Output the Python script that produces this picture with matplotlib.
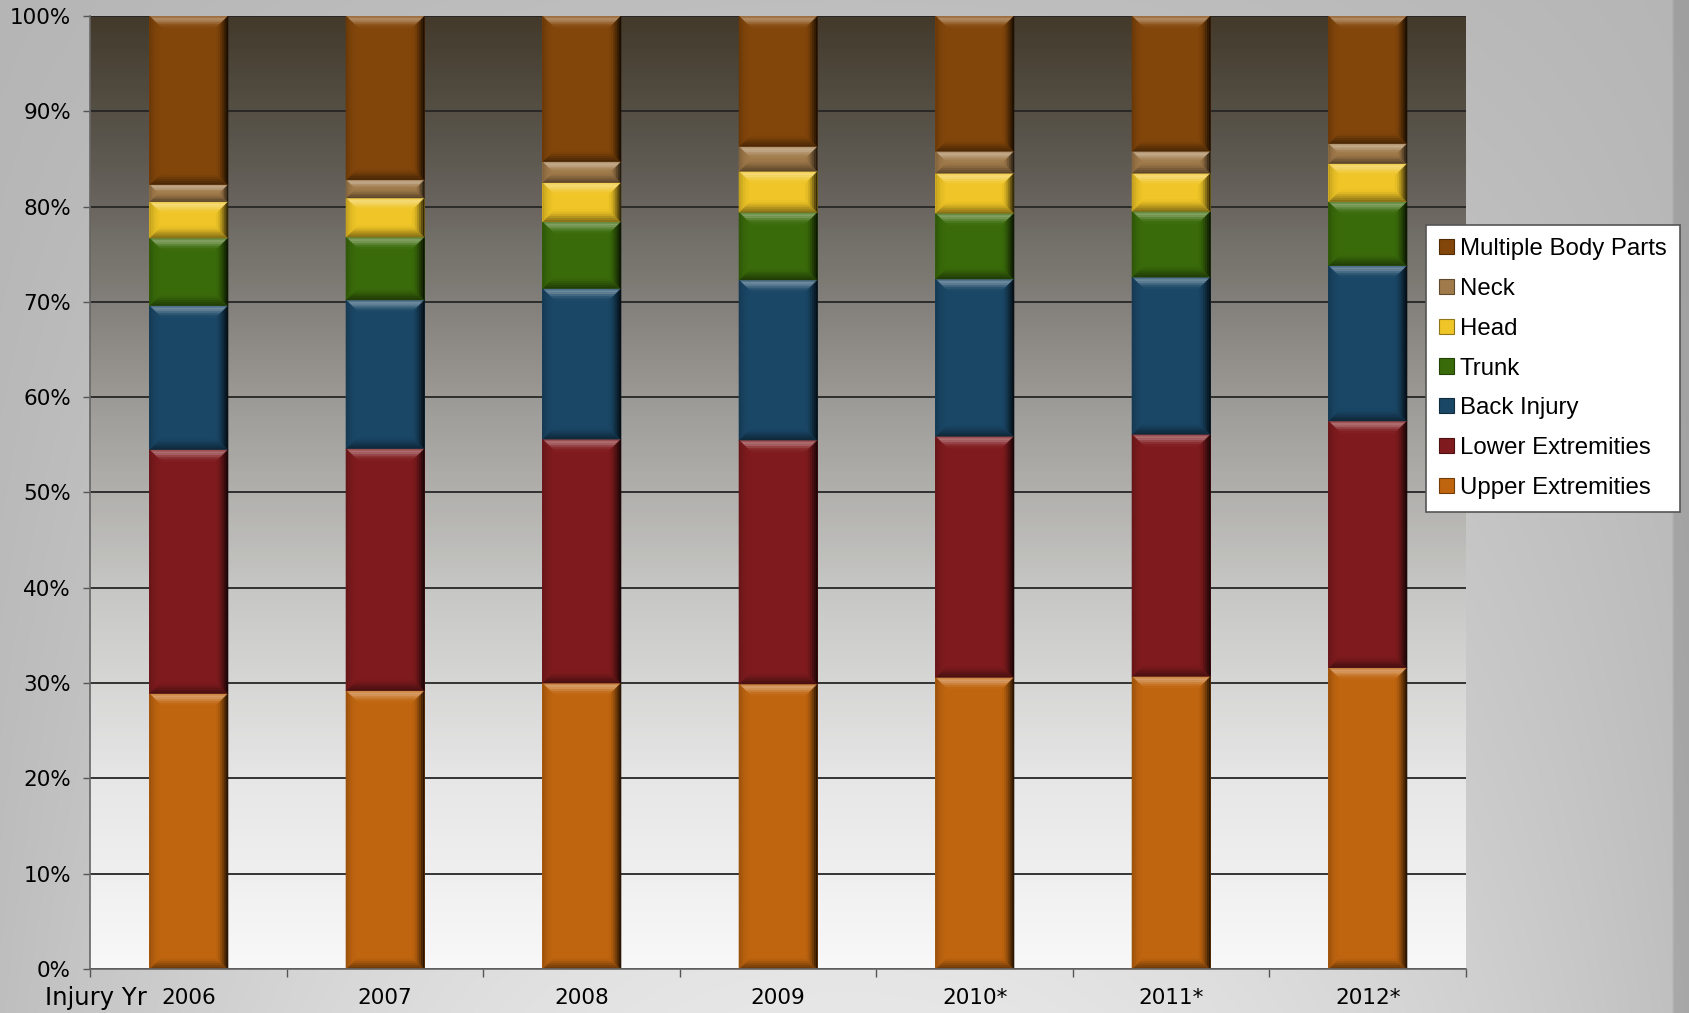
import numpy as np
import matplotlib
matplotlib.use("Agg")
import matplotlib.pyplot as plt
from matplotlib.patches import Polygon, Patch
from matplotlib.colors import to_rgb, LinearSegmentedColormap

years = ["2006", "2007", "2008", "2009", "2010*", "2011*", "2012*"]
upper = [28.9, 29.2, 30.0, 29.9, 30.6, 30.7, 31.6]
lower = [25.6, 25.4, 25.6, 25.6, 25.3, 25.4, 25.9]
back = [15.1, 15.6, 15.8, 16.8, 16.5, 16.5, 16.3]
trunk = [7.1, 6.6, 7.0, 7.1, 6.9, 6.9, 6.7]
head = [3.8, 4.1, 4.1, 4.3, 4.2, 4.0, 4.0]
neck = [1.8, 1.9, 2.2, 2.6, 2.3, 2.3, 2.1]
multiple = [17.7, 17.2, 15.3, 13.7, 14.2, 14.2, 13.4]

series_names = ["Upper Extremities", "Lower Extremities", "Back Injury", "Trunk",
                "Head", "Neck", "Multiple Body Parts"]
series_vals = [upper, lower, back, trunk, head, neck, multiple]
series_colors = ["#C0650F", "#7F1B1E", "#1A4766", "#3A6B0A", "#EFC527", "#A07A4A", "#83460A"]
yticks = list(range(0, 101, 10))


def shade(c, f):
    r = np.array(to_rgb(c))
    if f > 0:
        return tuple(np.clip(r + (1 - r) * f, 0, 1))
    return tuple(np.clip(r * (1 + f), 0, 1))


W_PX, H_PX = 1690, 1013
fig = plt.figure(figsize=(W_PX / 100, H_PX / 100), dpi=100)

# figure background gradient
bg = fig.add_axes([0, 0, 1, 1], zorder=-10)
H, W = 300, 600
yy, xx = np.mgrid[0:1:H * 1j, 0:1:W * 1j]
base = 0.745 + 0.16 * yy
k = 0.1 + 0.35 * yy
v = base - k * ((xx - 0.5) * 2) ** 2 * 0.35
v[:, xx[0] > 0.99] *= 0.88
img = np.dstack([v, v, v])
bg.imshow(img, extent=(0, 1, 0, 1), aspect="auto", interpolation="bilinear")
bg.set_axis_off()

left, right = 90.5 / W_PX, 1466 / W_PX
bottom, top = (H_PX - 969) / H_PX, (H_PX - 16) / H_PX
ax = fig.add_axes([left, bottom, right - left, top - bottom])
ax.set_facecolor("none")
ax.set_xlim(-0.5, len(years) - 0.5)
ax.set_ylim(0, 100)

# plot-area gradient
cmap = LinearSegmentedColormap.from_list(
    "pa", [(0.0, "#f8f8f8"), (0.2, "#e6e6e6"), (0.4, "#c6c6c4"),
           (0.6, "#9c9a96"), (0.85, "#5e5a52"), (1.0, "#433a2b")])
grad = np.linspace(0, 1, 256).reshape(-1, 1)
ax.imshow(grad, extent=(-0.5, len(years) - 0.5, 0, 100), origin="lower",
          aspect="auto", cmap=cmap, zorder=0.1, interpolation="bilinear")

ax.set_yticks(yticks)
ax.set_yticklabels([f"{t}%" for t in yticks])
ax.yaxis.grid(True, color="#262626", lw=1.3, zorder=0.5)
ax.set_axisbelow(True)

x = np.arange(len(years))
bar_w = 0.4
bottoms = np.zeros(len(years))
containers = []
for name, vals, col in zip(series_names, series_vals, series_colors):
    bc = ax.bar(x, vals, bar_w, bottom=bottoms, color=col, linewidth=0, zorder=3, label=name)
    containers.append((bc, col))
    bottoms = bottoms + np.array(vals)

# soft bevel effect built from each bar rectangle
fig.canvas.draw()
inv = ax.transData.inverted()
p0 = inv.transform((0, 0))
p1 = inv.transform((12, 12))
bx_full, by_full = abs(p1[0] - p0[0]), abs(p1[1] - p0[1])
top_prof = [0.22, 0.36, 0.30, 0.18, 0.08, 0.02]
bot_prof = [-0.42, -0.34, -0.25, -0.15, -0.07, -0.02]
right_prof = [-0.78, -0.6, -0.42, -0.26, -0.12, -0.04]
left_prof = [-0.18, -0.12, -0.07, -0.04, -0.02, 0.0]
nb = len(top_prof)
ts = np.linspace(0, 1, nb + 1)
for bc, col in containers:
    for r in bc.patches:
        x0, y0 = r.get_x(), r.get_y()
        x1, y1 = x0 + r.get_width(), y0 + r.get_height()
        by = min(by_full, r.get_height() / 2.0)
        bx = bx_full * by / by_full
        for i in range(nb):
            ta, tb = ts[i], ts[i + 1]
            sides = [
                ([(x0 + ta * bx, y1 - ta * by), (x1 - ta * bx, y1 - ta * by),
                  (x1 - tb * bx, y1 - tb * by), (x0 + tb * bx, y1 - tb * by)], top_prof[i]),
                ([(x0 + ta * bx, y0 + ta * by), (x1 - ta * bx, y0 + ta * by),
                  (x1 - tb * bx, y0 + tb * by), (x0 + tb * bx, y0 + tb * by)], bot_prof[i]),
                ([(x1 - ta * bx, y0 + ta * by), (x1 - ta * bx, y1 - ta * by),
                  (x1 - tb * bx, y1 - tb * by), (x1 - tb * bx, y0 + tb * by)], right_prof[i]),
                ([(x0 + ta * bx, y0 + ta * by), (x0 + ta * bx, y1 - ta * by),
                  (x0 + tb * bx, y1 - tb * by), (x0 + tb * bx, y0 + tb * by)], left_prof[i]),
            ]
            for pts, f in sides:
                c = shade(col, f)
                ax.add_patch(Polygon(pts, closed=True, facecolor=c, edgecolor=c,
                                     lw=0.3, zorder=3.5))

ax.set_xticks(x)
ax.set_xticklabels(years)
ax.set_xticks(np.arange(-0.5, len(years), 1.0), minor=True)
ax.tick_params(axis="x", which="major", length=0, pad=14, labelsize=15.5)
ax.tick_params(axis="x", which="minor", length=6, width=1, color="#555555", direction="out")
ax.tick_params(axis="y", which="major", length=5, width=1, color="#555555", pad=9, labelsize=15.5)
for s in ["top", "right"]:
    ax.spines[s].set_visible(False)
for s in ["left", "bottom"]:
    ax.spines[s].set_color("#666666")
    ax.spines[s].set_linewidth(1.2)
    ax.spines[s].set_zorder(4)

fig.text(42 * 1.0778 / W_PX, 1 - 998 / H_PX, "Injury Yr", fontsize=17.5, va="center", ha="left")

handles = [Patch(facecolor=c, edgecolor=shade(c, -0.4), lw=0.8) for c in series_colors][::-1]
labels = series_names[::-1]
leg = fig.legend(handles, labels, loc="upper left",
                 bbox_to_anchor=(1426 / W_PX, 1 - 225 / H_PX), bbox_transform=fig.transFigure,
                 prop={"family": "Liberation Sans", "size": 17.3}, frameon=True, fancybox=False,
                 borderaxespad=0, handlelength=0.6, handleheight=0.6, handletextpad=0.25,
                 labelspacing=0.74, borderpad=0.55)
leg.get_frame().set_edgecolor("#555555")
leg.get_frame().set_linewidth(1.2)
leg.get_frame().set_facecolor("white")
leg.get_frame().set_alpha(1)

fig.savefig("out.png", dpi=100)
